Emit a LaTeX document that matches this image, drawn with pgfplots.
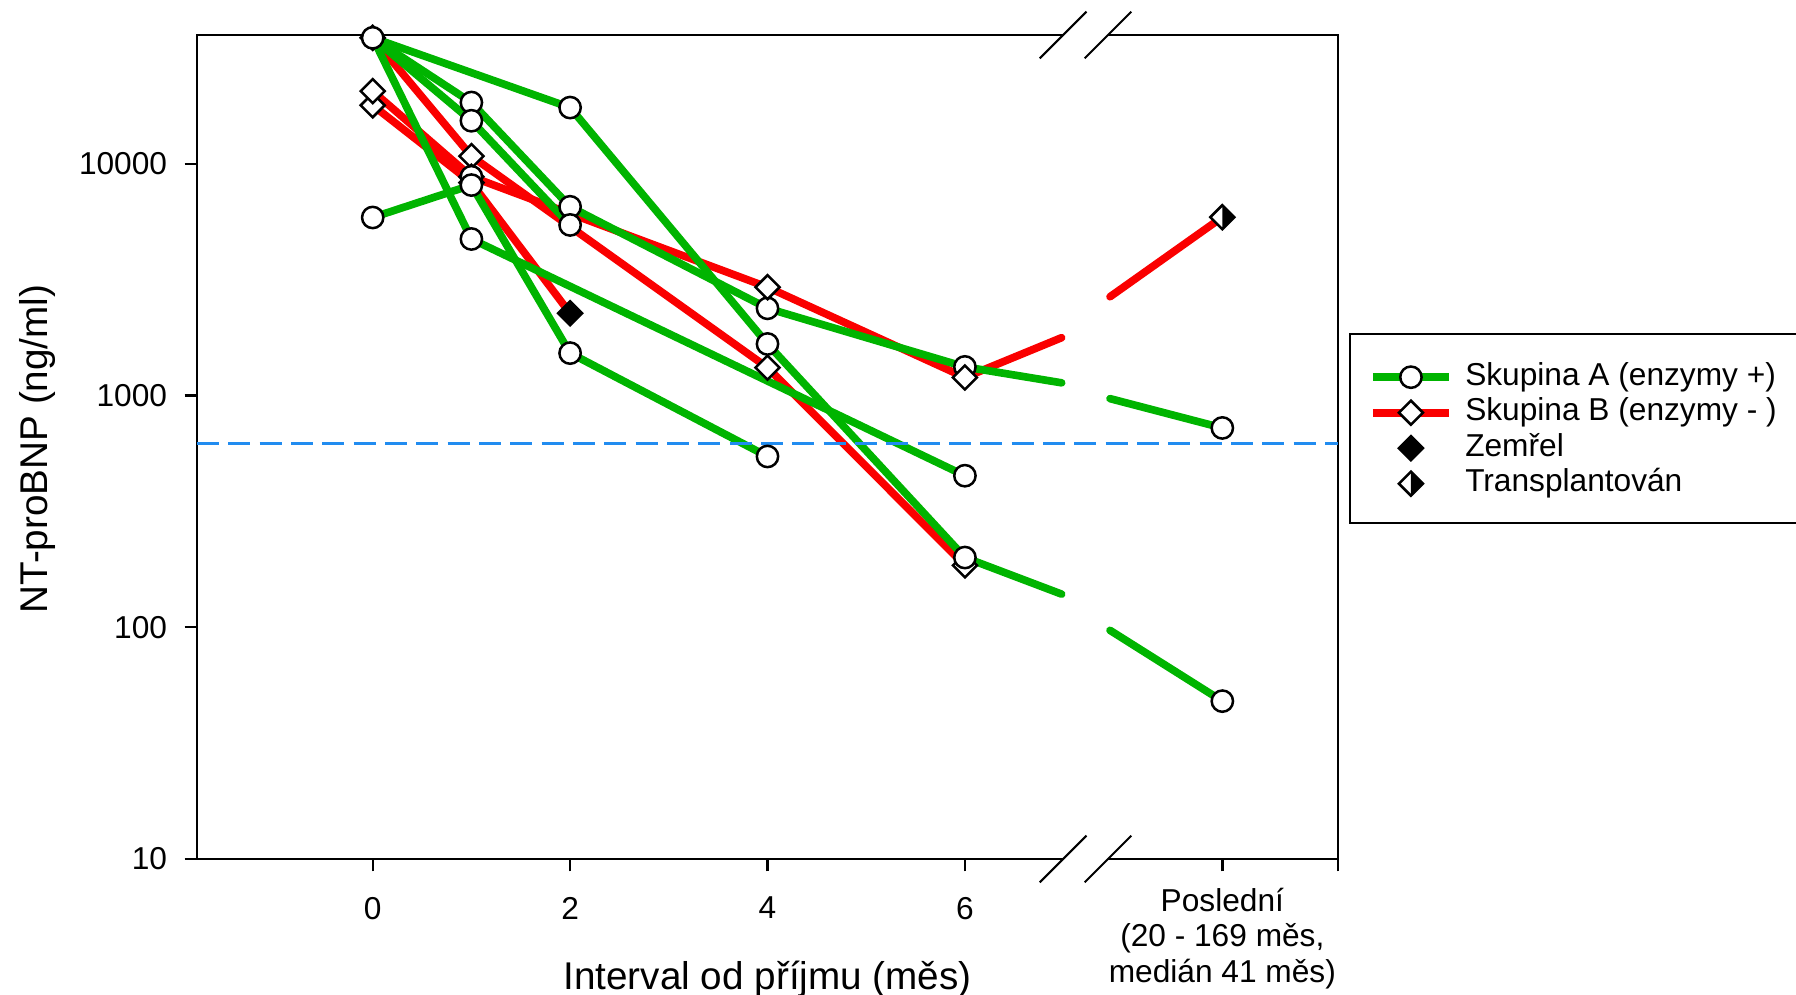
\documentclass[border=0pt]{standalone}
\usepackage{fontspec}
\setmainfont{Liberation Sans}
\usepackage{pgfplots}
\pgfplotsset{compat=1.18}

\definecolor{grpA}{RGB}{0,180,0}
\definecolor{grpB}{RGB}{250,0,0}
\definecolor{refblue}{RGB}{33,140,240}

% square diamond, and one with its right half black (transplanted)
\pgfdeclareplotmark{dmd}{%
  \pgfpathmoveto{\pgfqpoint{0pt}{\pgfplotmarksize}}%
  \pgfpathlineto{\pgfqpoint{\pgfplotmarksize}{0pt}}%
  \pgfpathlineto{\pgfqpoint{0pt}{-\pgfplotmarksize}}%
  \pgfpathlineto{\pgfqpoint{-\pgfplotmarksize}{0pt}}%
  \pgfpathclose
  \pgfusepathqfillstroke}
\pgfdeclareplotmark{halfdmd}{%
  \pgfpathmoveto{\pgfqpoint{0pt}{\pgfplotmarksize}}%
  \pgfpathlineto{\pgfqpoint{\pgfplotmarksize}{0pt}}%
  \pgfpathlineto{\pgfqpoint{0pt}{-\pgfplotmarksize}}%
  \pgfpathlineto{\pgfqpoint{-\pgfplotmarksize}{0pt}}%
  \pgfpathclose
  \pgfsetfillcolor{white}\pgfusepathqfill
  \pgfpathmoveto{\pgfqpoint{0pt}{\pgfplotmarksize}}%
  \pgfpathlineto{\pgfqpoint{\pgfplotmarksize}{0pt}}%
  \pgfpathlineto{\pgfqpoint{0pt}{-\pgfplotmarksize}}%
  \pgfpathclose
  \pgfsetfillcolor{black}\pgfusepathqfill
  \pgfpathmoveto{\pgfqpoint{0pt}{\pgfplotmarksize}}%
  \pgfpathlineto{\pgfqpoint{\pgfplotmarksize}{0pt}}%
  \pgfpathlineto{\pgfqpoint{0pt}{-\pgfplotmarksize}}%
  \pgfpathlineto{\pgfqpoint{-\pgfplotmarksize}{0pt}}%
  \pgfpathclose
  \pgfusepathqstroke}

\pgfplotsset{
  lineA/.style={grpA, line width=2.3pt, line cap=round, line join=round, mark=none},
  lineB/.style={grpB, line width=2.3pt, line cap=round, line join=round, mark=none},
  circ/.style={only marks, mark=*, mark size=3.2pt,
    mark options={draw=black, fill=white, line width=0.75pt}},
  dia/.style={only marks, mark=dmd, mark size=3.6pt,
    mark options={draw=black, fill=white, line width=0.75pt}},
}

\begin{document}
\begin{tikzpicture}
\path[use as bounding box] (0,0) rectangle (538.8pt,298.5pt);
\begin{axis}[
  at={(59.1pt,40.8pt)}, anchor=south west,
  scale only axis, width=342.3pt, height=247.2pt,
  xmin=-1.78, xmax=9.78,
  ymode=log, ymin=10, ymax=36000,
  clip=false,
  axis line style={line width=0.75pt},
  tick align=outside, xtick pos=left, ytick pos=left,
  major tick length=3.75pt,
  tick style={black, line width=0.7pt},
  yminorticks=false, xminorticks=false,
  xtick={0,2,4,6,9.78},
  xticklabels={0,2,4,6,{}},
  extra x ticks={8.608},
  extra x tick labels={{Poslední\\(20 - 169 měs{,}\\medián 41 měs)}},
  extra x tick style={xticklabel style={yshift=2.7pt}},
  ytick={10,100,1000,10000},
  yticklabels={10,100,1000,10000},
  ticklabel style={font=\fontsize{9.5}{10.65}\selectfont},
  xticklabel style={align=center, yshift=-4.1pt},
  yticklabel style={xshift=-1.7pt},
  xlabel={Interval od příjmu (měs)},
  ylabel={NT-proBNP (ng/ml)},
  label style={font=\fontsize{11.6}{13}\selectfont},
  xlabel style={at={(axis description cs:0.5,-0.1580)}, anchor=base},
  ylabel style={at={(axis description cs:-0.1306,0.4976)}, anchor=base},
  legend style={at={(axis description cs:1.0265,0.6033)}, anchor=north west,
    draw=none, fill=none, inner xsep=0pt, inner ysep=0pt,
    row sep=1.85pt, column sep=3.7pt,
    font=\fontsize{9.5}{10}\selectfont,
    nodes={inner sep=0pt, text height=6.8pt, text depth=2pt}},
  legend cell align=left,
  legend image code/.code={\draw[mark repeat=2,mark phase=2,#1]
    plot coordinates {(0pt,0pt) (11.45pt,0pt) (22.9pt,0pt)};},
]
\addlegendimage{grpA, line width=2.3pt, mark=*, mark size=3.2pt,
  mark options={draw=black, fill=white, line width=0.75pt}}
\addlegendentry{Skupina A (enzymy +)}
\addlegendimage{grpB, line width=2.3pt, mark=dmd, mark size=3.6pt,
  mark options={draw=black, fill=white, line width=0.75pt}}
\addlegendentry{Skupina B (enzymy - )}
\addlegendimage{only marks, mark=dmd, mark size=3.6pt,
  mark options={draw=black, fill=black, line width=0.75pt}}
\addlegendentry{Zemřel}
\addlegendimage{only marks, mark=halfdmd, mark size=3.6pt,
  mark options={draw=black, line width=0.75pt}}
\addlegendentry{Transplantován}

% group B lines (red)
\addplot[lineB] coordinates {(0,35000) (1,10800) (4,1320) (6,185)};
\addplot[lineB] coordinates {(0,20600) (1,8800) (4,2935) (6,1197) (6.98,1778)};
\addplot[lineB] coordinates {(7.47,2670) (8.608,5890)};
\addplot[lineB] coordinates {(0,17900) (1,8300) (2,2265)};

% group A lines (green)
\addplot[lineA] coordinates {(0,35000) (2,17500) (4,1670) (6,200) (6.98,139)};
\addplot[lineA] coordinates {(7.47,97) (8.608,48)};
\addplot[lineA] coordinates {(0,35000) (1,4740) (6,451)};
\addplot[lineA] coordinates {(0,35000) (1,18400) (2,6530) (4,2380) (6,1330) (6.98,1135)};
\addplot[lineA] coordinates {(7.47,970) (8.608,725)};
\addplot[lineA] coordinates {(0,35000) (1,15350) (2,5450)};
\addplot[lineA] coordinates {(0,5870) (1,8100) (2,1525) (4,546)};

% reference level
\addplot[refblue, line width=1pt, dash pattern=on 6.6pt off 2.8pt]
  coordinates {(-1.78,620) (9.78,620)};

% markers, lower diamonds
\addplot[dia] coordinates {(0,35000) (1,10800) (4,1320) (6,185) (1,8800) (0,17900) (1,8300)};
% circles
\addplot[circ] coordinates {(1,8800) (0,35000) (2,17500) (4,1670) (6,200) (8.608,48)
  (1,4740) (6,451) (1,18400) (2,6530) (4,2380) (6,1330) (8.608,725)
  (1,15350) (2,5450) (0,5870) (1,8100) (2,1525) (4,546)};
% upper diamonds
\addplot[dia] coordinates {(0,20600) (4,2935) (6,1197)};
\addplot[only marks, mark=dmd, mark size=3.6pt,
  mark options={draw=black, fill=black, line width=0.75pt}] coordinates {(2,2265)};
\addplot[only marks, mark=halfdmd, mark size=3.6pt,
  mark options={draw=black, line width=0.75pt}] coordinates {(8.608,5890)};

% axis break
\fill[white] ([yshift=-1.5pt]axis cs:6.995,36000) rectangle ([yshift=1.5pt]axis cs:7.45,36000);
\fill[white] ([yshift=-1.5pt]axis cs:6.995,10) rectangle ([yshift=1.5pt]axis cs:7.45,10);
\draw[line width=0.6pt] ([shift={(-7pt,-7pt)}]axis cs:6.995,36000) -- ([shift={(7pt,7pt)}]axis cs:6.995,36000);
\draw[line width=0.6pt] ([shift={(-7pt,-7pt)}]axis cs:7.45,36000) -- ([shift={(7pt,7pt)}]axis cs:7.45,36000);
\draw[line width=0.6pt] ([shift={(-7pt,-7pt)}]axis cs:6.995,10) -- ([shift={(7pt,7pt)}]axis cs:6.995,10);
\draw[line width=0.6pt] ([shift={(-7pt,-7pt)}]axis cs:7.45,10) -- ([shift={(7pt,7pt)}]axis cs:7.45,10);
\end{axis}
\draw[line width=0.75pt] (405pt,141.6pt) rectangle (541pt,198.3pt);
\end{tikzpicture}
\end{document}
